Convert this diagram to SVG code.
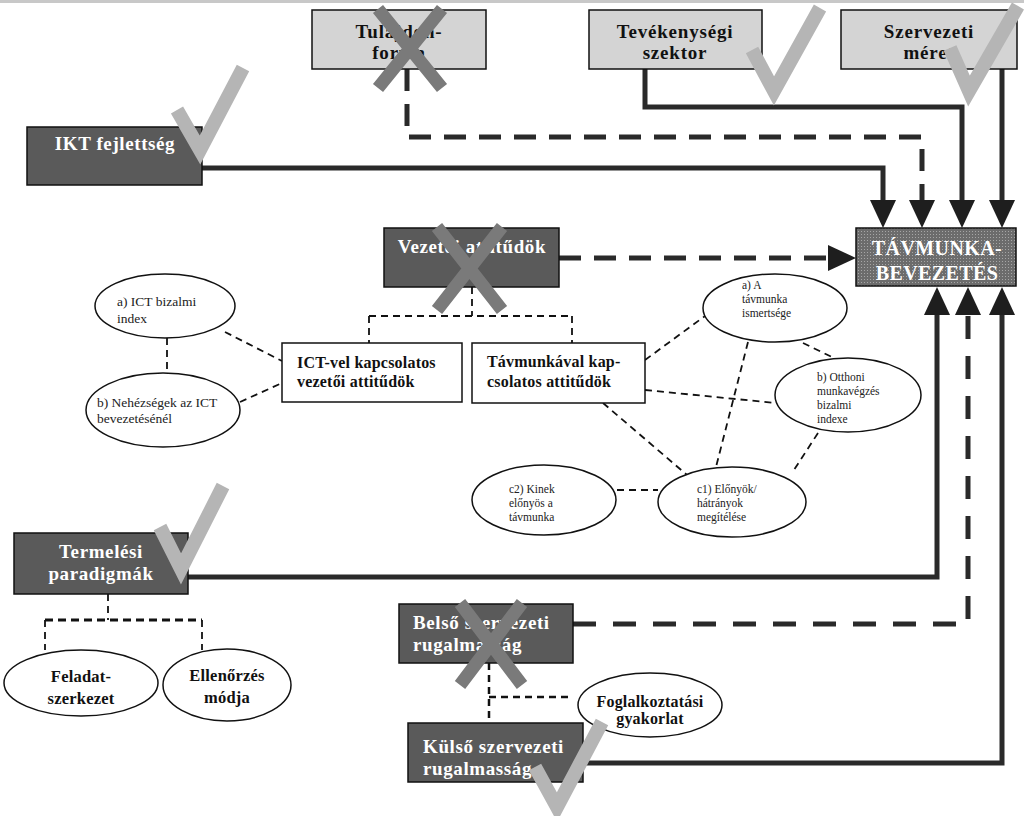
<svg xmlns="http://www.w3.org/2000/svg" width="1024" height="816" viewBox="0 0 1024 816">
<style>
.dark{fill:#5a5a5a;stroke:#111;stroke-width:1.5}
.light{fill:#d4d4d4;stroke:#111;stroke-width:1.5}
.white{fill:#fff;stroke:#111;stroke-width:1.5}
.ell{fill:#fff;stroke:#111;stroke-width:1.5}
.tw{font-family:"Liberation Serif","Times New Roman",serif;font-weight:bold;font-size:19px;letter-spacing:0.6px;fill:#fff}
.tb{font-family:"Liberation Serif","Times New Roman",serif;font-weight:bold;font-size:19px;letter-spacing:0.8px;fill:#111}
.tm{font-family:"Liberation Serif","Times New Roman",serif;font-weight:bold;font-size:16px;letter-spacing:0.2px;fill:#111}
.ts{font-family:"Liberation Serif","Times New Roman",serif;font-size:13.5px;fill:#222}
.tx{font-family:"Liberation Serif","Times New Roman",serif;font-size:11.5px;fill:#222}
.c{text-anchor:middle}
.solid{fill:none;stroke:#2a2a2a;stroke-width:5}
.dash{fill:none;stroke:#2a2a2a;stroke-width:5;stroke-dasharray:22 13}
.thin{fill:none;stroke:#111;stroke-width:1.8;stroke-dasharray:7 5}
.check{fill:none;stroke:#b5b5b5;stroke-width:14;stroke-linejoin:miter}
.cross{fill:none;stroke:#7a7a7a;stroke-width:13}
</style>
<defs>
<pattern id="dots" width="3" height="3" patternUnits="userSpaceOnUse">
<rect width="3" height="3" fill="#6c6c6c"/>
<rect width="1" height="1" fill="#a6a6a6"/>
</pattern>
<marker id="arr" viewBox="0 0 28 26" markerWidth="28" markerHeight="26" refX="1" refY="13" orient="auto" markerUnits="userSpaceOnUse">
<path d="M0,0 L28,13 L0,26 Z" fill="#1e1e1e"/>
</marker>
</defs>
<rect x="0" y="0" width="1024" height="3" fill="#c8c8c8"/>

<g id="connectors">
<path class="solid" d="M202,168 H883 V201" marker-end="url(#arr)"/>
<path class="dash" d="M407,69 V137 H922 V201" marker-end="url(#arr)"/>
<path class="solid" d="M645,69 V107 H962 V201" marker-end="url(#arr)"/>
<path class="solid" d="M1002,69 V201" marker-end="url(#arr)"/>
<path class="dash" d="M559,258 H829" marker-end="url(#arr)"/>
<path class="solid" d="M188,577 H937 V314" marker-end="url(#arr)"/>
<path class="dash" style="stroke-dasharray:23 17" d="M573,624 H968 V314" marker-end="url(#arr)"/>
<path class="solid" d="M583,763 H1002 V314" marker-end="url(#arr)"/>
<path class="thin" d="M472,287 V316 M369,316 H572 M369,316 V343 M572,316 V343"/>
<path class="thin" d="M167,338 V373 M225,332 L282,361 M240,402 L282,383"/>
<path class="thin" d="M645,360 L705,316 M645,390 L776,403 M603,403 L687,475 M748,342 L716,467 M803,343 L838,360 M818,433 L792,473 M617,490 H658"/>
<path class="thin" d="M108,594 V620 M45,620 V650 M202,620 V650"/>
<path class="thin" style="stroke-width:3;stroke-dasharray:8 5" d="M45,620 H202"/>
<path class="thin" style="stroke-width:2.5" d="M489,663 V723 M489,697 H568"/>
</g>

<g id="tulajdonforma">
<rect class="light" x="312" y="10" width="174" height="59"/>
<text class="tb c" x="399" y="38">Tulajdon-</text>
<text class="tb c" x="399" y="59">forma</text>
</g>
<g id="tevekenysegi">
<rect class="light" x="589" y="10" width="173" height="59"/>
<text class="tb c" x="675" y="38">Tevékenységi</text>
<text class="tb c" x="675" y="59">szektor</text>
</g>
<g id="szervezeti">
<rect class="light" x="841" y="10" width="176" height="59"/>
<text class="tb c" x="929" y="38">Szervezeti</text>
<text class="tb c" x="929" y="59">méret</text>
</g>
<g id="ikt">
<rect class="dark" x="27" y="127" width="175" height="58"/>
<text class="tw c" x="115" y="150">IKT fejlettség</text>
</g>
<g id="tavmunka">
<rect x="856" y="228" width="160" height="58" fill="url(#dots)" stroke="#111" stroke-width="1.5"/>
<text class="tw c" style="font-size:20px;letter-spacing:0.4px" x="937" y="255">TÁVMUNKA-</text>
<text class="tw c" style="font-size:20px;letter-spacing:0.4px" x="937" y="280">BEVEZETÉS</text>
</g>
<g id="vezetoi">
<rect class="dark" x="384" y="228" width="175" height="59"/>
<text class="tw c" x="472" y="253">Vezetői attitűdök</text>
</g>
<g id="ictvel">
<rect class="white" x="282" y="343" width="180" height="59"/>
<text class="tm" x="297" y="368">ICT-vel kapcsolatos</text>
<text class="tm" x="297" y="387">vezetői attitűdök</text>
</g>
<g id="tavmunkaval">
<rect class="white" x="472" y="343" width="173" height="60"/>
<text class="tm" x="487" y="367">Távmunkával kap-</text>
<text class="tm" x="487" y="387">csolatos attitűdök</text>
</g>
<g id="ict-bizalmi">
<ellipse class="ell" cx="165" cy="306" rx="70" ry="32"/>
<text class="ts" x="117" y="306">a) ICT bizalmi</text>
<text class="ts" x="117" y="323">index</text>
</g>
<g id="nehezsegek">
<ellipse class="ell" cx="163" cy="410" rx="77" ry="37"/>
<text class="ts" x="97" y="407">b) Nehézségek  az ICT</text>
<text class="ts" x="97" y="423">bevezetésénél</text>
</g>
<g id="ismertsege">
<ellipse class="ell" cx="775" cy="308" rx="72" ry="34"/>
<text class="tx" x="742" y="289">a) A</text>
<text class="tx" x="742" y="303">távmunka</text>
<text class="tx" x="742" y="317">ismertsége</text>
</g>
<g id="otthoni">
<ellipse class="ell" cx="848" cy="395" rx="73" ry="37"/>
<text class="tx" x="817" y="381">b) Otthoni</text>
<text class="tx" x="817" y="395">munkavégzés</text>
<text class="tx" x="817" y="409">bizalmi</text>
<text class="tx" x="817" y="423">indexe</text>
</g>
<g id="elonyok">
<ellipse class="ell" cx="732" cy="502" rx="74" ry="35"/>
<text class="tx" x="697" y="493">c1) Előnyök/</text>
<text class="tx" x="697" y="507">hátrányok</text>
<text class="tx" x="697" y="521">megítélése</text>
</g>
<g id="kinek">
<ellipse class="ell" cx="544" cy="500" rx="72" ry="35"/>
<text class="tx" x="509" y="493">c2) Kinek</text>
<text class="tx" x="509" y="507">előnyös a</text>
<text class="tx" x="509" y="521">távmunka</text>
</g>
<g id="termelesi">
<rect class="dark" x="14" y="533" width="174" height="61"/>
<text class="tw c" x="101" y="558">Termelési</text>
<text class="tw c" x="101" y="580">paradigmák</text>
</g>
<g id="feladat">
<ellipse class="ell" cx="81" cy="683" rx="77" ry="33"/>
<text class="tm c" style="font-size:16.5px" x="81" y="682">Feladat-</text>
<text class="tm c" style="font-size:16.5px" x="81" y="704">szerkezet</text>
</g>
<g id="ellenorzes">
<ellipse class="ell" cx="227" cy="685" rx="64" ry="36"/>
<text class="tm c" style="font-size:16.5px" x="227" y="681">Ellenőrzés</text>
<text class="tm c" style="font-size:16.5px" x="227" y="703">módja</text>
</g>
<g id="belso">
<rect class="dark" x="399" y="604" width="174" height="59"/>
<text class="tw" x="413" y="629">Belső szervezeti</text>
<text class="tw" x="413" y="651">rugalmasság</text>
</g>
<g id="foglalkoztatasi">
<ellipse class="ell" cx="650" cy="705" rx="72" ry="32"/>
<text class="tm c" x="650" y="707">Foglalkoztatási</text>
<text class="tm c" x="650" y="724">gyakorlat</text>
</g>
<g id="kulso">
<rect class="dark" x="408" y="723" width="175" height="59"/>
<text class="tw" x="423" y="753">Külső szervezeti</text>
<text class="tw" x="423" y="775">rugalmasság</text>
</g>

<g id="marks">
<polyline class="check" points="177,110 200,150 243,68"/>
<polyline class="check" points="752,50 774,91 820,8"/>
<polyline class="check" points="950,48 969,91 1018,6"/>
<polyline class="check" points="160,527 181,569 223,486"/>
<polyline class="check" points="535,767 557,807 602,722"/>
<path class="cross" d="M378,9 L442,88 M442,9 L378,88"/>
<path class="cross" d="M437,227 L502,310 M502,227 L437,310"/>
<path class="cross" d="M460,603 L522,685 M522,603 L460,685"/>
</g>
</svg>
